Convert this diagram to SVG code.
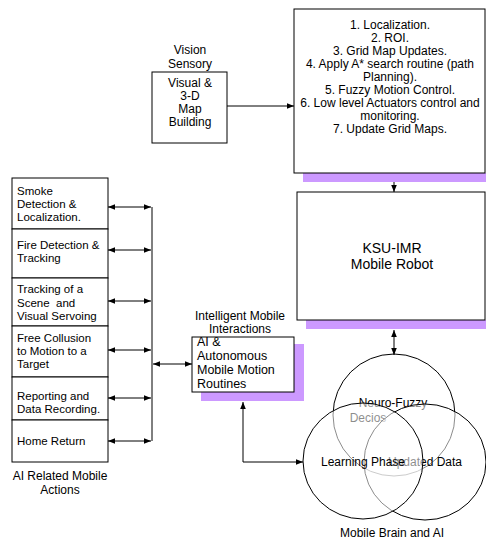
<svg xmlns="http://www.w3.org/2000/svg" width="486" height="540" viewBox="0 0 486 540">
<defs>
<style>
text{font-family:"Liberation Sans",Arial,sans-serif;font-size:12px;fill:#000}
.c{text-anchor:middle}
.s{font-size:11.5px}
.box{fill:#fff;stroke:#000;stroke-width:1}
.sh{fill:#CC99FF}
.ln{fill:none;stroke:#000;stroke-width:1}
.circ{fill:#fff;fill-opacity:0.55;stroke:#000;stroke-width:1}
</style>
<marker id="ah" viewBox="0 0 10 10" refX="10" refY="5" markerWidth="7" markerHeight="7" markerUnits="userSpaceOnUse" orient="auto-start-reverse">
<path d="M0,1 L10,5 L0,9 Z" fill="#000"/>
</marker>
</defs>
<rect width="486" height="540" fill="#fff"/>

<g id="vision">
<text class="c" x="190" y="54">Vision</text>
<text class="c" x="190" y="68">Sensory</text>
<rect class="box" x="152" y="72" width="75" height="71"/>
<text class="c" x="190" y="87">Visual &amp;</text>
<text class="c" x="190" y="100">3-D</text>
<text class="c" x="190" y="113">Map</text>
<text class="c" x="190" y="126">Building</text>
</g>

<g id="tasks">
<rect class="sh" x="303" y="173" width="190" height="9"/>
<rect class="box" x="294" y="9" width="191" height="164"/>
<text class="c" x="390" y="29">1. Localization.</text>
<text class="c" x="390" y="42">2. ROI.</text>
<text class="c" x="390" y="55">3. Grid Map Updates.</text>
<text class="c" x="390" y="68">4. Apply A* search routine (path</text>
<text class="c" x="390" y="81">Planning).</text>
<text class="c" x="390" y="94">5. Fuzzy Motion Control.</text>
<text class="c" x="390" y="107">6. Low level Actuators control and</text>
<text class="c" x="390" y="120">monitoring.</text>
<text class="c" x="390" y="133">7. Update Grid Maps.</text>
</g>

<g id="robot">
<rect class="sh" x="306" y="320" width="190" height="9"/>
<rect class="box" x="297" y="192" width="188" height="128"/>
<text class="c" x="392" y="253" style="font-size:14px">KSU-IMR</text>
<text class="c" x="392" y="269" style="font-size:14px">Mobile Robot</text>
</g>

<g id="actions">
<rect class="box" x="12" y="178" width="96" height="51"/>
<text class="s" x="17" y="195">Smoke</text>
<text class="s" x="17" y="208">Detection &amp;</text>
<text class="s" x="17" y="221">Localization.</text>
<rect class="box" x="12" y="229" width="96" height="49"/>
<text class="s" x="17" y="249">Fire Detection &amp;</text>
<text class="s" x="17" y="262">Tracking</text>
<rect class="box" x="12" y="278" width="96" height="48"/>
<text class="s" x="17" y="293">Tracking of a</text>
<text class="s" x="17" y="307" xml:space="preserve">Scene  and</text>
<text class="s" x="17" y="320">Visual Servoing</text>
<rect class="box" x="12" y="326" width="96" height="51"/>
<text class="s" x="17" y="342">Free Collusion</text>
<text class="s" x="17" y="355">to Motion to a</text>
<text class="s" x="17" y="368">Target</text>
<rect class="box" x="12" y="377" width="96" height="43"/>
<text class="s" x="17" y="400">Reporting and</text>
<text class="s" x="17" y="413">Data Recording.</text>
<rect class="box" x="12" y="420" width="96" height="42"/>
<text class="s" x="17" y="445">Home Return</text>
<text class="c" x="60" y="480">AI Related Mobile</text>
<text class="c" x="60" y="494">Actions</text>
</g>

<g id="ai">
<text class="c" x="240" y="320">Intelligent Mobile</text>
<text class="c" x="240" y="333">Interactions</text>
<rect class="sh" x="201" y="344" width="103" height="57"/>
<rect class="box" x="192" y="337" width="102" height="55"/>
<text x="197" y="346" style="font-size:12.5px">AI &amp;</text>
<text x="197" y="360" style="font-size:12.5px">Autonomous</text>
<text x="197" y="374" style="font-size:12.5px">Mobile Motion</text>
<text x="197" y="388" style="font-size:12.5px">Routines</text>
</g>

<g id="brain">
<ellipse class="circ" cx="394" cy="415" rx="61" ry="61"/>
<text class="c" x="393" y="407">Neuro-Fuzzy</text>
<text class="c" x="368" y="422">Decios</text>
<ellipse class="circ" cx="425" cy="462" rx="61" ry="58"/>
<text class="c" x="425" y="466">Updated Data</text>
<ellipse class="circ" cx="363" cy="461" rx="60" ry="58"/>
<text class="c" x="363" y="466">Learning Phase</text>
<text class="c" x="392" y="537">Mobile Brain and AI</text>
</g>

<g id="connectors">
<path class="ln" d="M227,106 H294" marker-end="url(#ah)"/>
<path class="ln" d="M394,182 V192" marker-end="url(#ah)"/>
<path class="ln" d="M394,330 V355" marker-start="url(#ah)" marker-end="url(#ah)"/>
<path class="ln" d="M152,207 V441"/>
<path class="ln" d="M108,207 H151" marker-start="url(#ah)" marker-end="url(#ah)"/>
<path class="ln" d="M108,250 H151" marker-start="url(#ah)" marker-end="url(#ah)"/>
<path class="ln" d="M108,301 H151" marker-start="url(#ah)" marker-end="url(#ah)"/>
<path class="ln" d="M108,350 H151" marker-start="url(#ah)" marker-end="url(#ah)"/>
<path class="ln" d="M108,398 H151" marker-start="url(#ah)" marker-end="url(#ah)"/>
<path class="ln" d="M108,441 H151" marker-start="url(#ah)" marker-end="url(#ah)"/>
<path class="ln" d="M153,364 H192" marker-start="url(#ah)" marker-end="url(#ah)"/>
<path class="ln" d="M243,402 V462 H303" marker-start="url(#ah)" marker-end="url(#ah)"/>
</g>
</svg>
